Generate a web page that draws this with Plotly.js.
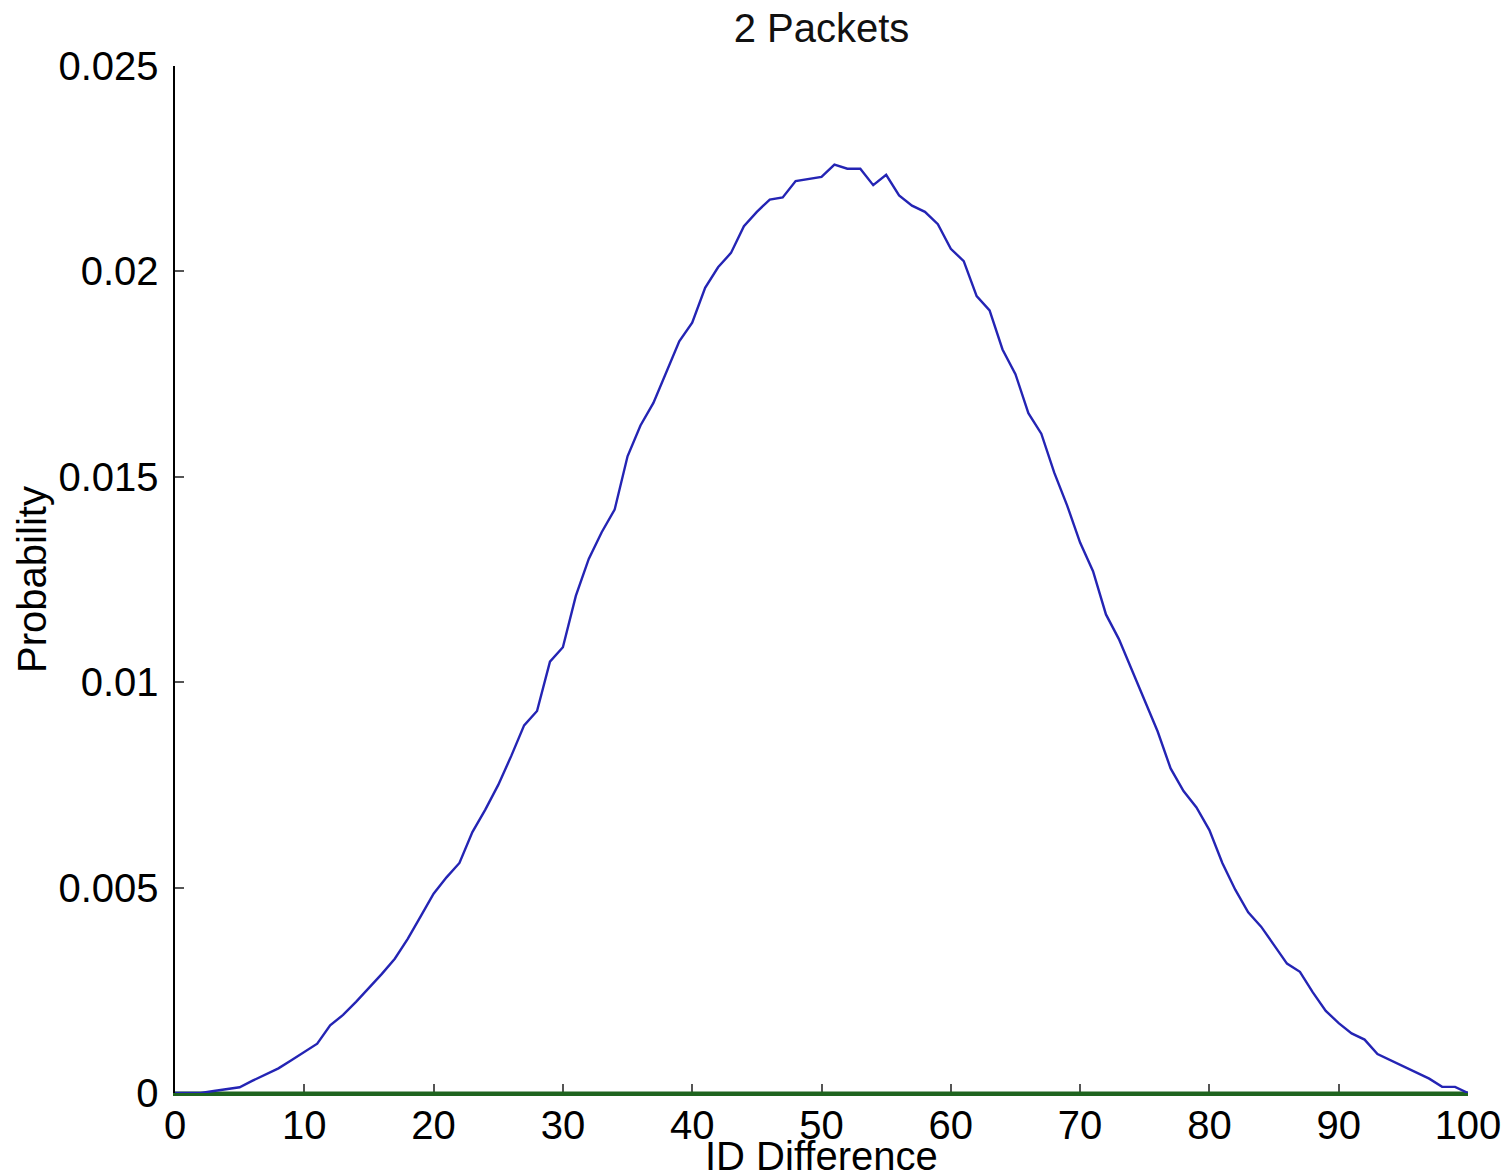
<!DOCTYPE html>
<html>
<head>
<meta charset="utf-8">
<script src="https://cdn.plot.ly/plotly-3.0.1.min.js"></script>
<style>
  html, body { margin: 0; padding: 0; background: #ffffff; }
  #chart { width: 1511px; height: 1176px; }
</style>
</head>
<body>
<div id="chart"></div>
<script>
// ID difference values (x)
const idDifference = [
  0, 1, 2, 3, 4, 5, 6, 7, 8, 9,
  10, 11, 12, 13, 14, 15, 16, 17, 18, 19,
  20, 21, 22, 23, 24, 25, 26, 27, 28, 29,
  30, 31, 32, 33, 34, 35, 36, 37, 38, 39,
  40, 41, 42, 43, 44, 45, 46, 47, 48, 49,
  50, 51, 52, 53, 54, 55, 56, 57, 58, 59,
  60, 61, 62, 63, 64, 65, 66, 67, 68, 69,
  70, 71, 72, 73, 74, 75, 76, 77, 78, 79,
  80, 81, 82, 83, 84, 85, 86, 87, 88, 89,
  90, 91, 92, 93, 94, 95, 96, 97, 98, 99,
  100
];

// Probability for 2 packets
const probability = [
  0.00000, 0.00000, 0.00000, 0.00005, 0.00010, 0.00014, 0.00030, 0.00045, 0.00060, 0.00080,
  0.00100, 0.00120, 0.00165, 0.00190, 0.00222, 0.00255, 0.00290, 0.00327, 0.00375, 0.00430,
  0.00485, 0.00525, 0.00560, 0.00635, 0.00690, 0.00750, 0.00820, 0.00895, 0.00930, 0.01050,
  0.01085, 0.01210, 0.01300, 0.01365, 0.01420, 0.01550, 0.01625, 0.01680, 0.01755, 0.01830,
  0.01875, 0.01960, 0.02010, 0.02045, 0.02110, 0.02145, 0.02175, 0.02180, 0.02220, 0.02225,
  0.02230, 0.02260, 0.02250, 0.02250, 0.02210, 0.02235, 0.02185, 0.02160, 0.02145, 0.02115,
  0.02055, 0.02025, 0.01940, 0.01905, 0.01810, 0.01750, 0.01655, 0.01605, 0.01510, 0.01430,
  0.01340, 0.01270, 0.01165, 0.01105, 0.01030, 0.00955, 0.00880, 0.00790, 0.00735, 0.00695,
  0.00640, 0.00560, 0.00495, 0.00440, 0.00405, 0.00360, 0.00315, 0.00295, 0.00245, 0.00200,
  0.00170, 0.00145, 0.00130, 0.00095, 0.00080, 0.00065, 0.00050, 0.00035, 0.00015, 0.00015,
  0.00000
];

// Baseline series (green, along zero)
const baselineX = [0, 100];
const baselineY = [0, 0];

const xTicks = [0, 10, 20, 30, 40, 50, 60, 70, 80, 90, 100];
const yTicks = [0, 0.005, 0.01, 0.015, 0.02, 0.025];
const yTickText = ["0", "0.005", "0.01", "0.015", "0.02", "0.025"];

const FONT = "'Liberation Sans', Arial, Helvetica, sans-serif";
const GREEN = "#1f641f";

const traces = [
  {
    x: baselineX,
    y: baselineY,
    type: "scatter",
    mode: "lines",
    line: { color: GREEN, width: 3 },
    hoverinfo: "skip",
    showlegend: false,
    cliponaxis: false
  },
  {
    x: idDifference,
    y: probability,
    type: "scatter",
    mode: "lines",
    line: { color: "#2424b4", width: 2.4 },
    hoverinfo: "x+y",
    showlegend: false,
    cliponaxis: false
  }
];

const layout = {
  width: 1511,
  height: 1176,
  paper_bgcolor: "#ffffff",
  plot_bgcolor: "#ffffff",
  margin: { l: 175, r: 43, t: 66, b: 83, pad: 0 },
  font: { family: FONT, size: 40, color: "#000000" },
  title: {
    text: "2 Packets",
    font: { family: FONT, size: 40, color: "#111111" },
    x: 0.5,
    xref: "paper",
    xanchor: "center",
    y: 1,
    yref: "container",
    yanchor: "top",
    pad: { t: 14 }
  },
  xaxis: {
    range: [0, 100],
    tickmode: "array",
    tickvals: xTicks,
    ticktext: xTicks.map(String),
    ticks: "inside",
    ticklen: 9,
    tickwidth: 2,
    tickcolor: "#555555",
    showgrid: false,
    zeroline: false,
    showline: true,
    linecolor: GREEN,
    linewidth: 2.5,
    mirror: false,
    layer: "below traces",
    tickfont: { family: FONT, size: 40, color: "#000000" },
    ticklabelstandoff: -5,
    automargin: false,
    fixedrange: true
  },
  yaxis: {
    range: [0, 0.025],
    tickmode: "array",
    tickvals: yTicks,
    ticktext: yTickText,
    ticks: "inside",
    ticklen: 9,
    tickwidth: 2,
    tickcolor: "#555555",
    showgrid: false,
    zeroline: false,
    showline: true,
    linecolor: "#000000",
    linewidth: 2.5,
    mirror: false,
    layer: "below traces",
    tickfont: { family: FONT, size: 40, color: "#000000" },
    ticklabelstandoff: 6,
    title: {
      text: "Probability",
      font: { family: FONT, size: 40, color: "#000000" },
      standoff: 0
    },
    automargin: false,
    fixedrange: true
  },
  annotations: [
    {
      text: "ID Difference",
      xref: "paper",
      yref: "paper",
      x: 0.5,
      y: 0,
      xanchor: "center",
      yanchor: "top",
      yshift: -40,
      showarrow: false,
      borderpad: 0,
      font: { family: FONT, size: 40, color: "#000000" }
    }
  ],
  showlegend: false
};

Plotly.newPlot("chart", traces, layout, { displayModeBar: false, staticPlot: true });
</script>
</body>
</html>
